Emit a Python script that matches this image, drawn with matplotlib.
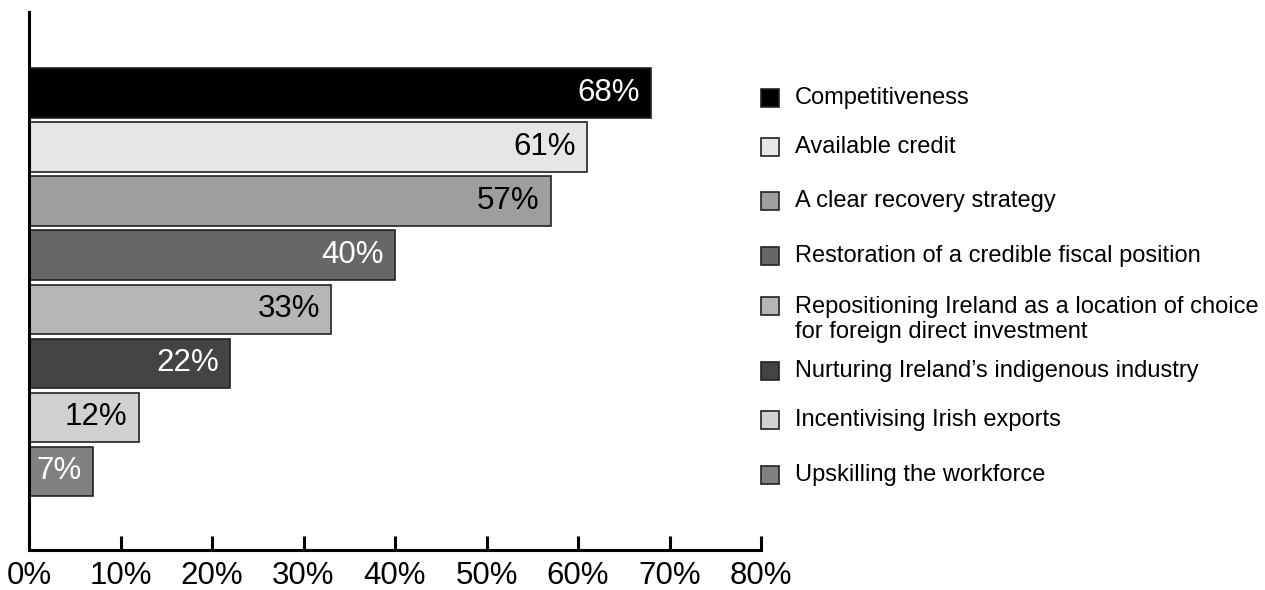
import matplotlib.pyplot as plt
from matplotlib.patches import Rectangle
import numpy as np

categories = ['Competitiveness', 'Available credit', 'A clear recovery strategy',
              'Restoration of a credible fiscal position',
              'Repositioning Ireland as a location of choice\nfor foreign direct investment',
              'Nurturing Ireland\u2019s indigenous industry',
              'Incentivising Irish exports', 'Upskilling the workforce']
values = [68, 61, 57, 40, 33, 22, 12, 7]
bar_colors = ['#000000', '#e6e6e6', '#9d9ea0', '#666769',
              '#b5b6b8', '#444446', '#d0d1d3', '#808183']
label_colors = ['white', 'black', 'black', 'white', 'black', 'white', 'black', 'white']
xticks = [0, 10, 20, 30, 40, 50, 60, 70, 80]
xticklabels = ['0%', '10%', '20%', '30%', '40%', '50%', '60%', '70%', '80%']

plt.rcParams['font.family'] = ['Liberation Sans', 'DejaVu Sans']

fig = plt.figure(figsize=(12.65, 5.9), dpi=100)
ax = fig.add_axes([29/1265, 40/590, 732/1265, 538/590])

pos = np.arange(len(values))
ax.barh(pos, values, height=0.91, color=bar_colors, edgecolor='#222222', linewidth=1.2)
for p, v, c in zip(pos, values, label_colors):
    ax.annotate(f'{v}%', (v, p), xytext=(-8, 0), textcoords='offset points',
                ha='right', va='center', fontsize=22.5, color=c)

ax.set_xlim(0, 80)
ax.set_ylim(8.46, -1.5)
ax.set_xticks(xticks)
ax.set_xticklabels(xticklabels, fontsize=22.5)
ax.set_yticks([])
ax.tick_params(axis='x', direction='in', length=10, width=2.2, pad=8)
for s in ['top', 'right']:
    ax.spines[s].set_visible(False)
for s in ['left', 'bottom']:
    ax.spines[s].set_linewidth(2.2)

# legend drawn by hand (one entry wraps onto two lines)
leg_y = [98, 147, 201, 256, 306, 371, 420, 475]
for y, lab, c in zip(leg_y, categories, bar_colors):
    fig.add_artist(Rectangle((761/1265, (590 - y - 9)/590), 18/1265, 18/590,
                             transform=fig.transFigure, facecolor=c,
                             edgecolor='#222222', linewidth=1.2))
    ty = y + 13.5 if '\n' in lab else y
    fig.text(795/1265, (590 - ty)/590, lab, fontsize=17, va='center',
             ha='left', linespacing=1.15)

fig.savefig('out.png', dpi=100)
